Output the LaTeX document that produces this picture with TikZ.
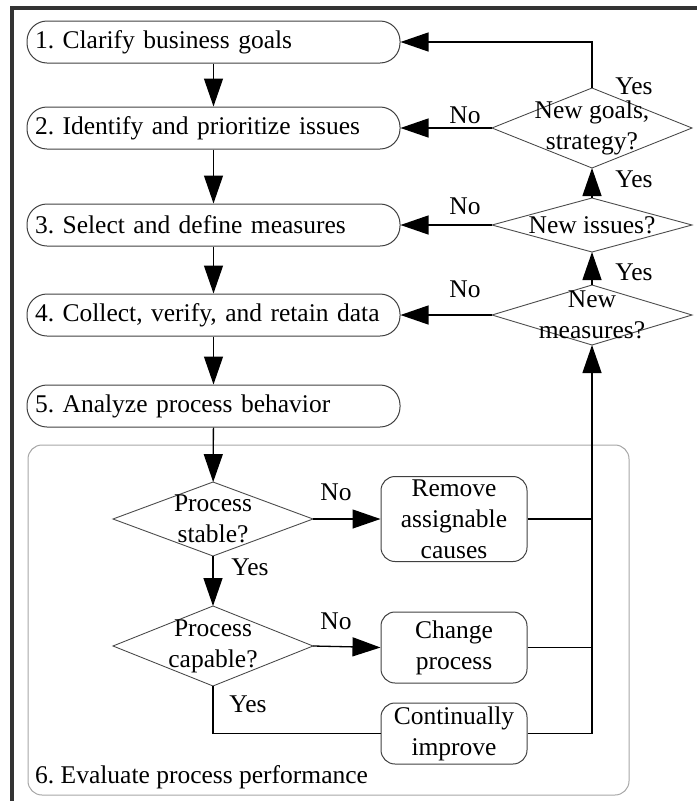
\documentclass[tikz,border=0pt]{standalone}
\usepackage{fontspec}
\setmainfont{Liberation Serif}
\frenchspacing
\usetikzlibrary{arrows.meta,shapes.geometric}
\tikzset{
       stage/.style = { draw=black!75, line width=1pt, rounded corners=20pt, minimum height=42pt, text width=357pt, inner xsep=8pt, align=left },
      action/.style = { draw=black!75, line width=1pt, rounded corners=14pt, minimum width=146pt, align=center, inner sep=0pt },
    decision/.style = { diamond, draw=black!70, line width=0.9pt, minimum width=200pt, inner sep=0pt, outer sep=0pt },
        flow/.style = { -{Triangle[length=28pt,width=19pt]}, line width=1.3pt },
        wire/.style = { line width=1.3pt },
      answer/.style = { inner sep=0pt },
       frame/.style = { draw=black!35, line width=1pt, rounded corners=14pt }
}

\begin{document}
\begin{tikzpicture}[x=1pt, y=-1pt, font=\fontsize{25.5}{31}\selectfont]
  \useasboundingbox (0,0) rectangle (697,801);
  % page edge
  \draw[line width=4pt, black!80] (12,801) -- (12,8) -- (697,8);

  % step 6 frame
  \draw[frame] (28,445) rectangle (629,795);
  \node (evaluate) at (35,783) [anchor=base west, inner sep=0pt] {6. Evaluate process performance};

  % stages
  \node (b1) at (213.5,42)  [stage] {1. Clarify business goals};
  \node (b2) at (213.5,128) [stage] {2. Identify and prioritize issues};
  \node (b3) at (213.5,225) [stage] {3. Select and define measures};
  \node (b4) at (213.5,315) [stage] {4. Collect, verify, and retain data};
  \node (b5) at (213.5,406) [stage] {5. Analyze process behavior};

  % questions on the right
  \node (d1) at (592,128) [decision, minimum height=80pt, label={[align=center]center:New goals,\\strategy?}] {};
  \node (d2) at (592,225) [decision, minimum height=54pt, label={center:New issues?}] {};
  \node (d3) at (592,315) [decision, minimum height=60pt, label={[align=center]center:New\\measures?}] {};

  % evaluation
  \node (stable)  at (213,519) [decision, minimum height=74pt, label={[align=center]center:Process\\stable?}] {};
  \node (capable) at (213,646) [decision, minimum height=80pt, label={[align=center]center:Process\\capable?}] {};

  \node (remove)  at (454,519)   [action, minimum height=85pt] {Remove\\assignable\\causes};
  \node (change)  at (454,647.5) [action, minimum height=71pt] {Change\\process};
  \node (improve) at (454,733.5) [action, minimum height=61pt] {Continually\\improve};

  % connectors
  \draw[flow] (b1) -- (b2);
  \draw[flow] (b2) -- (b3);
  \draw[flow] (b3) -- (b4);
  \draw[flow] (b4) -- (b5);
  \draw[flow] (b5) -- (stable);

  \draw[flow] (stable.east) -- (remove.west);
  \draw[flow] (stable) -- (capable);
  \draw[flow] (capable.east) -- (change.west);
  \draw[wire] (capable.south) |- (improve.west);

  \draw[wire] (remove.east) -- (remove.east -| d3);
  \draw[wire] (change.east) -- (change.east -| d3);
  \draw[flow] (improve.east) -| (d3.south);

  \draw[flow] (d3) -- (d2);
  \draw[flow] (d2) -- (d1);
  \draw[flow] (d1.north) |- (b1.east);
  \draw[flow] (d1.west) -- (b2.east);
  \draw[flow] (d2.west) -- (b3.east);
  \draw[flow] (d3.west) -- (b4.east);

  % answers
  \node (no1)  at (465,115) [answer] {No};
  \node (no2)  at (465,206) [answer] {No};
  \node (no3)  at (465,289) [answer] {No};
  \node (no4)  at (336,492) [answer] {No};
  \node (no5)  at (336,621) [answer] {No};
  \node (yes1) at (634,86)  [answer] {Yes};
  \node (yes2) at (634,179) [answer] {Yes};
  \node (yes3) at (634,272) [answer] {Yes};
  \node (yes4) at (250,567) [answer] {Yes};
  \node (yes5) at (248,704) [answer] {Yes};
\end{tikzpicture}
\end{document}
